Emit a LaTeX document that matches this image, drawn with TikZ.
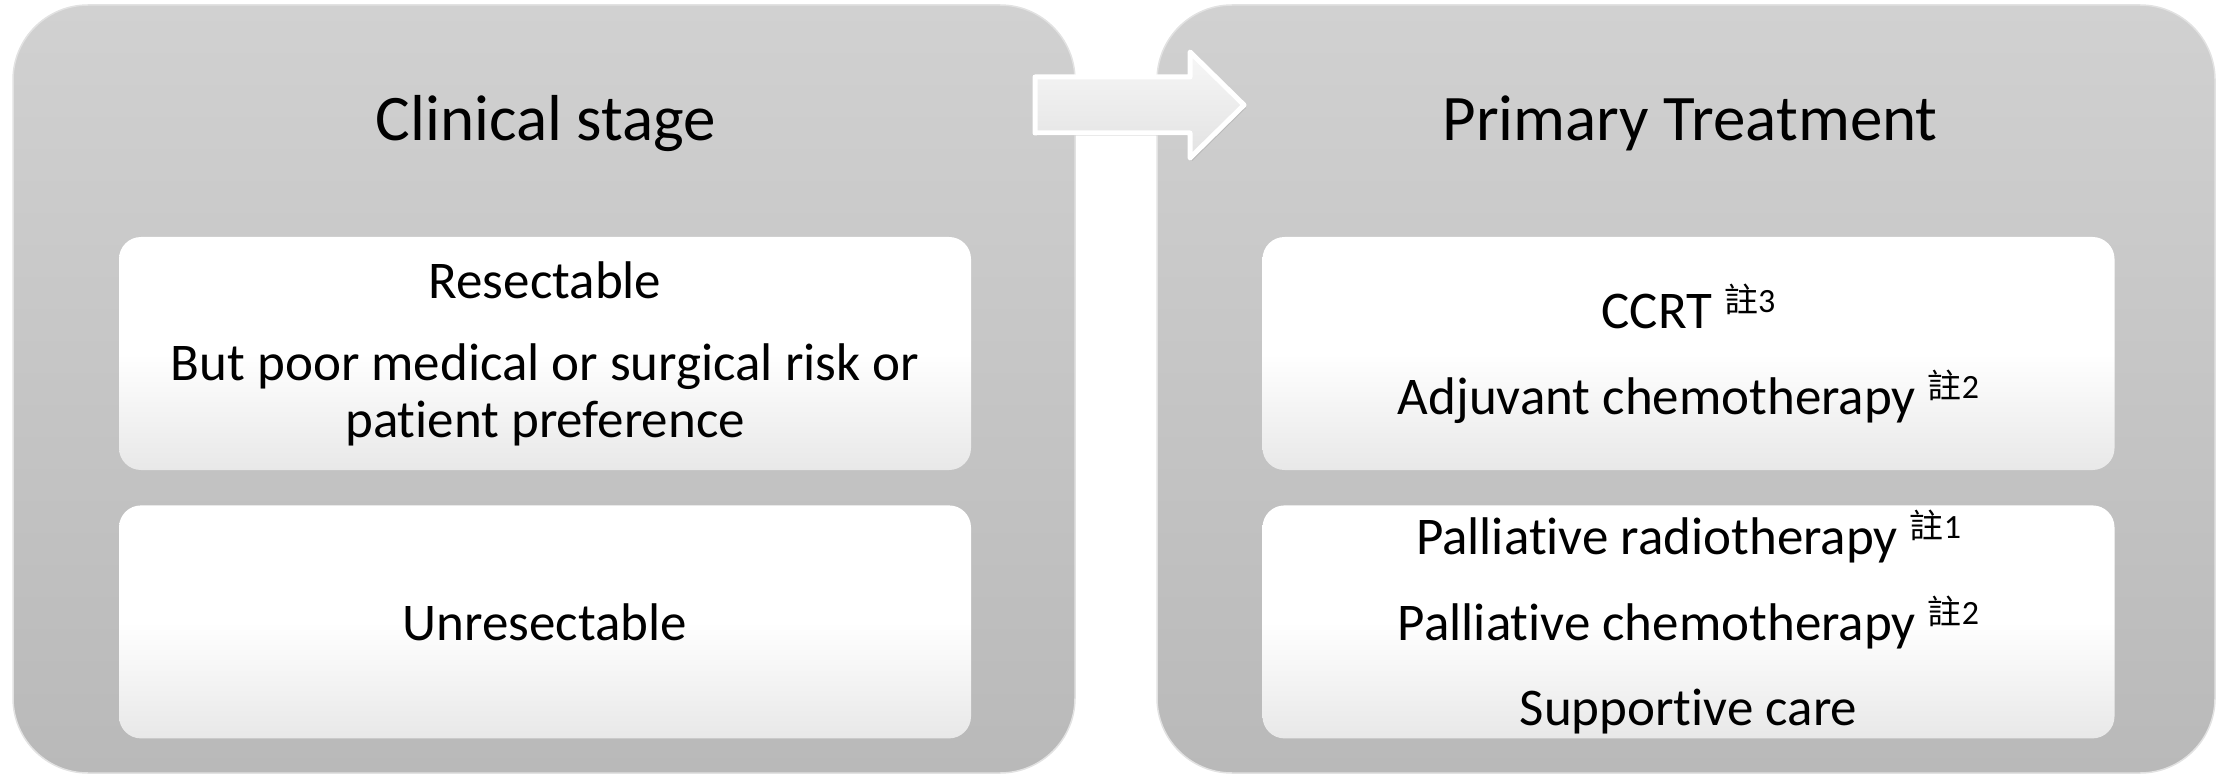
\documentclass[tikz,border=0pt]{standalone}
\usepackage{fontspec}
\setmainfont{Carlito}[Ligatures=CommonOff]
\newfontfamily\cjk{Noto Sans CJK TC}
\usetikzlibrary{positioning, shadows}
\definecolor{paneltop}{HTML}{D1D1D1}
\definecolor{panelbot}{HTML}{B9B9B9}
\definecolor{paneledge}{HTML}{E2E2E2}
\definecolor{cardbot}{HTML}{E8E8E8}
\definecolor{arrowtop}{HTML}{F7F7F7}
\definecolor{arrowbot}{HTML}{E2E2E2}
% superscript note mark
\newcommand{\zhu}[1]{\raisebox{16pt}{\fontsize{34}{34}\selectfont{\cjk 註}#1}}

\begin{document}
\begin{tikzpicture}[x=1pt, y=-1pt,
    panel/.style={draw=paneledge, line width=1.5pt, top color=paneltop, bottom color=panelbot,
      rounded corners=75pt, minimum height=768pt, inner sep=0pt},
    ptitle/.style={font=\fontsize{65}{70}\selectfont, anchor=base},
    card/.style={rounded corners=22pt, top color=white, bottom color=cardbot, middle color=white,
      minimum width=852pt, minimum height=233pt, inner sep=0pt, align=center,
      font=\fontsize{53}{57}\selectfont},
    bigarrow/.style={draw=white, line width=5pt, line join=round, top color=arrowtop, bottom color=arrowbot,
      drop shadow={opacity=0.25, shadow xshift=2pt, shadow yshift=-3pt}}]
  \useasboundingbox (0,0) rectangle (2226,775);

  % panels
  \node[panel, minimum width=1062pt] (stage) at (544,389) {};
  \node[panel, minimum width=1058pt] (treat) at (1686,389) {};
  \node[ptitle] (stagetitle) at (546,141) {Clinical stage};
  \node[ptitle] (treattitle) at (1690,141) {Primary Treatment};

  % left cards
  \node[card] (resect) at (545,353.5) {Resectable\\[25pt]But poor medical or surgical risk or\\patient preference};
  \node[card, below=35pt of resect] (unresect) {Unresectable};

  % right cards
  \node[card] (ccrt) at (1688.5,353.5) {CCRT \zhu{3}\\[29pt]Adjuvant chemotherapy \zhu{2}};
  \node[card, below=35pt of ccrt] (palli) {Palliative radiotherapy \zhu{1}\\[29pt]Palliative chemotherapy \zhu{2}\\[28pt]Supportive care};

  % block arrow
  \coordinate (arrtail) at (1035,105);
  \draw[bigarrow] (arrtail) ++(0,-28) -- ++(155,0) -- ++(0,-25) -- ++(54,53) -- ++(-54,53)
    -- ++(0,-25) -- ++(-155,0) -- cycle;
\end{tikzpicture}
\end{document}
